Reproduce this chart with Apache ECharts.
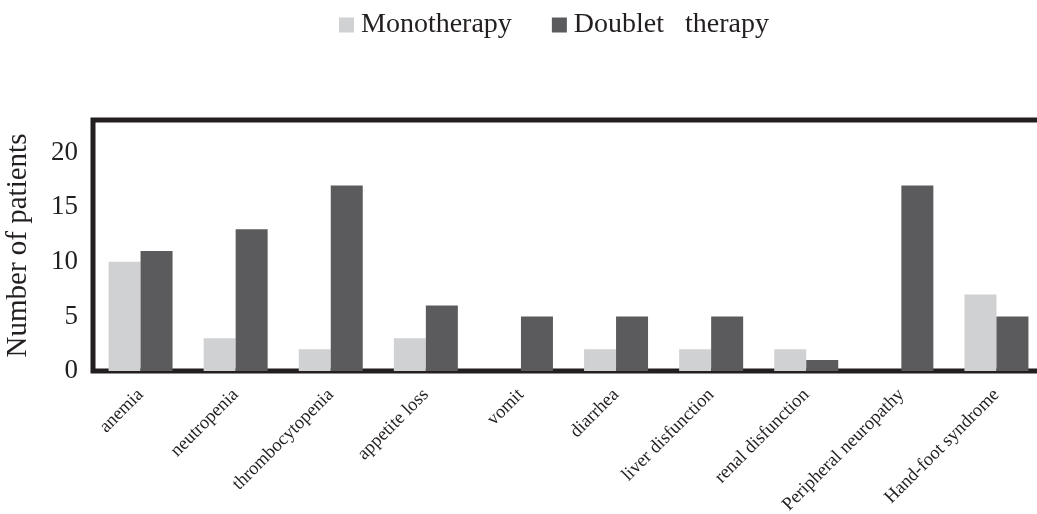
<!DOCTYPE html>
<html><head><meta charset="utf-8">
<script src="https://cdn.jsdelivr.net/npm/echarts@6/dist/echarts.min.js"></script>
<style>html,body{margin:0;padding:0;background:#fff}#c{width:1037px;height:514px}</style>
</head><body><div id="c"></div>
<script>
const categories = ['anemia','neutropenia','thrombocytopenia','appetite loss','vomit','diarrhea','liver disfunction','renal disfunction','Peripheral neuropathy','Hand-foot syndrome'];
const monotherapy = [10, 3, 2, 3, 0, 2, 2, 2, 0, 7];
const doublet = [11, 13, 17, 6, 5, 5, 5, 1, 17, 5];
const seriesNames = ['Monotherapy', 'Doublet   therapy'];
const yTicks = [0, 5, 10, 15, 20];

const FONT = '"Liberation Serif", "Times New Roman", serif';
const INK = '#231f20';
const chart = echarts.init(document.getElementById('c'), null, {renderer: 'canvas'});
chart.setOption({
  animation: false,
  backgroundColor: '#fff',
  legend: {
    left: 334, top: 6,
    icon: 'rect', itemWidth: 15, itemHeight: 15, itemGap: 40,
    textStyle: {fontFamily: FONT, fontSize: 28, color: INK, padding: [0,0,0,2]},
    data: seriesNames
  },
  grid: {
    left: 93, top: 120, width: 951, bottom: 143,
    outerBoundsMode: 'none', containLabel: false,
    show: true, borderColor: INK, borderWidth: 5, backgroundColor: 'transparent'
  },
  xAxis: {
    type: 'category', data: categories,
    axisLine: {show: false}, axisTick: {show: false},
    axisLabel: {rotate: 45, interval: 0, margin: 21, fontFamily: FONT, fontSize: 18.5, color: INK}
  },
  yAxis: {
    type: 'value', min: 0, max: 23, interval: 5,
    name: 'Number of patients', nameLocation: 'middle', nameGap: 60,
    nameTextStyle: {fontFamily: FONT, fontSize: 29, color: INK},
    axisLine: {show: false}, axisTick: {show: false}, splitLine: {show: false},
    axisLabel: {margin: 15, fontFamily: FONT, fontSize: 27, color: INK,
      formatter: v => yTicks.indexOf(v) >= 0 ? String(v) : ''}
  },
  series: [
    {name: seriesNames[0], type: 'bar', data: monotherapy, barWidth: 32, barGap: '0%', itemStyle: {color: '#d0d1d3'}},
    {name: seriesNames[1], type: 'bar', data: doublet, barWidth: 32, barGap: '0%', itemStyle: {color: '#5b5b5d'}}
  ]
});
</script></body></html>
